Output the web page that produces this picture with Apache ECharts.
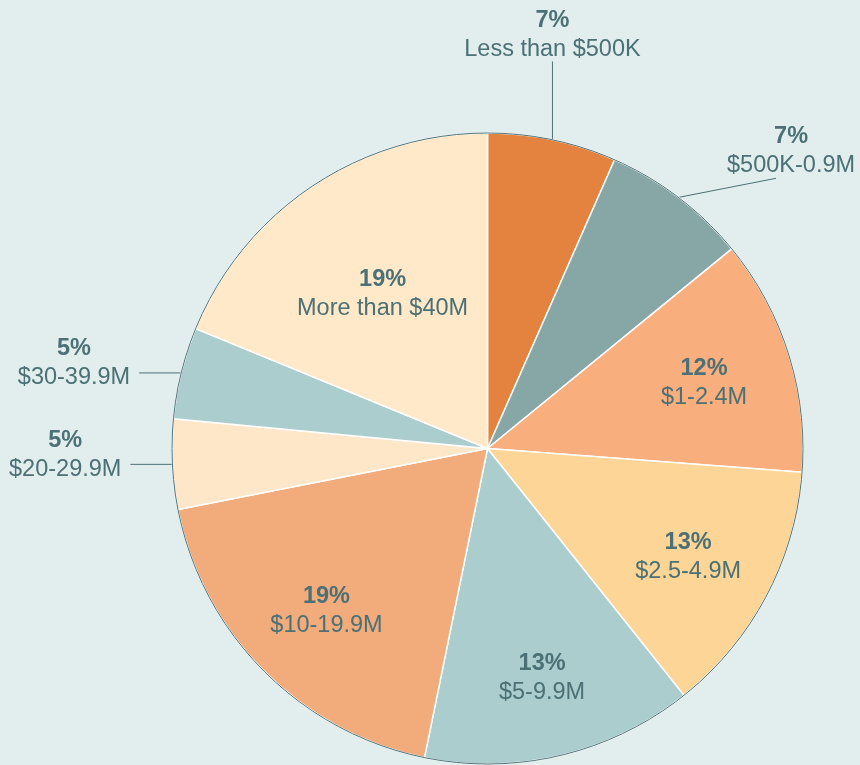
<!DOCTYPE html>
<html><head><meta charset="utf-8">
<script src="https://cdn.jsdelivr.net/npm/echarts@6/dist/echarts.min.js"></script>
<style>html,body{margin:0;padding:0;background:#E2EEEE}#c{width:860px;height:765px}</style>
</head><body><div id="c"></div>
<script>
// ---- data ----
const categories = ['Less than $500K', '$500K-0.9M', '$1-2.4M', '$2.5-4.9M', '$5-9.9M', '$10-19.9M', '$20-29.9M', '$30-39.9M', 'More than $40M'];
const shares = [6.6, 7.5, 12.1, 13.1, 13.9, 18.7, 4.6, 4.7, 18.8];
const shareLabels = ['7%', '7%', '12%', '13%', '13%', '19%', '5%', '5%', '19%'];
const placement = ['up', 'diag', 'in', 'in', 'in', 'in', 'left', 'left', 'in'];

// ---- styles ----
const colors = ['#E3833F', '#87A7A7', '#F9AE7E', '#FDD597', '#ABCDCD', '#F2AC7B', '#FEE7C8', '#ABCDCD', '#FFE9C9'];
const textColor = '#4B7075';
const FS = 23.5, LH = 29, BASE = 2.5;
const CENTER = [487.5, 448.5];
const R = 315.5;
const insideScale = [1, 1, 1, 1, 1.03, 1, 1, 1, 0.83];
const leaderStyle = {
  up: { length: 80, length2: 0 },
  diag: { length: 24, length2: 83 },
  left: { length: 0.01, length2: 42 }
};
const rich = {
  p: { fontFamily: 'Liberation Sans', fontSize: FS, fontWeight: 'bold', color: textColor, lineHeight: LH, align: 'center' },
  n: { fontFamily: 'Liberation Sans', fontSize: FS, color: textColor, lineHeight: LH, align: 'center' }
};
const fmt = p => '{p|' + shareLabels[p.dataIndex] + '}\n{n|' + categories[p.dataIndex] + '}';

const chart = echarts.init(document.getElementById('c'), null, { renderer: 'canvas' });

const mainData = shares.map((v, i) => {
  const kind = placement[i];
  const item = { value: v, name: categories[i], itemStyle: { color: colors[i] } };
  if (kind === 'in') {
    item.label = { show: false };
    item.labelLine = { show: false };
  } else {
    item.label = { show: true };
    item.labelLine = { show: true, length: leaderStyle[kind].length, length2: leaderStyle[kind].length2 };
  }
  return item;
});

const overlayData = shares.map((v, i) => ({
  value: v, name: categories[i],
  label: { show: placement[i] === 'in' }
}));

chart.setOption({
  backgroundColor: '#E2EEEE',
  animation: false,
  graphic: {
    elements: [{
      type: 'circle',
      silent: true,
      z: 50,
      shape: { cx: CENTER[0], cy: CENTER[1], r: R },
      style: { fill: null, stroke: '#4E7378', lineWidth: 1 }
    }]
  },
  series: [
    {
      type: 'pie',
      center: CENTER,
      radius: [0, R],
      startAngle: 90,
      clockwise: true,
      avoidLabelOverlap: false,
      silent: true,
      itemStyle: { borderColor: '#FFFFFF', borderWidth: 1.5 },
      label: { position: 'outside', formatter: fmt, rich: rich, distanceToLabelLine: 0 },
      labelLine: { lineStyle: { color: textColor, width: 1 }, smooth: false },
      labelLayout: function (p) {
        const kind = placement[p.dataIndex];
        const pts = p.labelLinePoints;
        if (!pts || kind === 'in') return {};
        const a = pts[0], b = pts[pts.length - 1];
        if (kind === 'up') {
          return { labelLinePoints: [[a[0], a[1]], [a[0], b[1]]], x: a[0], y: b[1] + BASE, align: 'center', verticalAlign: 'bottom' };
        }
        if (kind === 'diag') {
          return { labelLinePoints: [[a[0], a[1]], [b[0], b[1]]], x: b[0] + 15, y: b[1] - 1 + BASE, align: 'center', verticalAlign: 'bottom' };
        }
        return { labelLinePoints: pts.map(q => [q[0], q[1]]), x: b[0] - 9, y: b[1] + 17 + BASE, align: 'right', verticalAlign: 'bottom' };
      },
      data: mainData,
      z: 2
    },
    {
      type: 'pie',
      center: CENTER,
      radius: [R * 0.42, R],
      startAngle: 90,
      clockwise: true,
      silent: true,
      avoidLabelOverlap: false,
      itemStyle: { color: 'rgba(0,0,0,0)', borderWidth: 0 },
      label: { position: 'inside', formatter: fmt, rich: rich },
      labelLine: { show: false },
      labelLayout: function (p) {
        const r = p.labelRect;
        if (!r) return {};
        const k = insideScale[p.dataIndex];
        const cx = r.x + r.width / 2, cy = r.y + r.height / 2;
        return {
          x: CENTER[0] + (cx - CENTER[0]) * k,
          y: CENTER[1] + (cy - CENTER[1]) * k + BASE,
          align: 'center', verticalAlign: 'middle'
        };
      },
      data: overlayData,
      z: 4
    }
  ]
});
</script>
</body></html>
